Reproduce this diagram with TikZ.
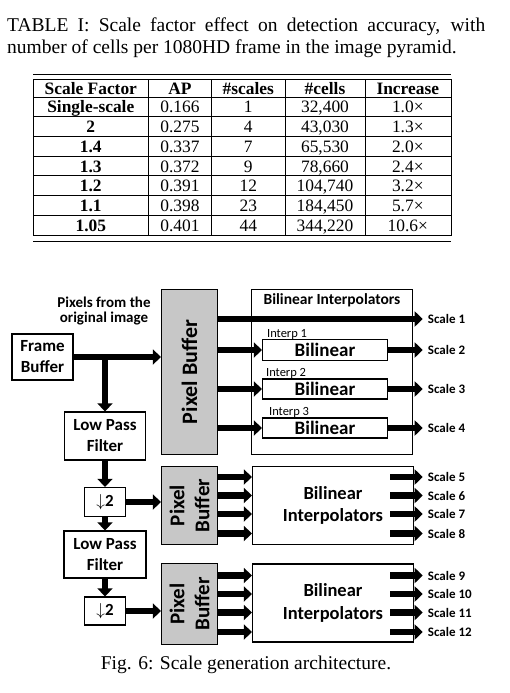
\documentclass[tikz,border=0pt]{standalone}
\usepackage{fontspec}
\setmainfont{Liberation Serif}
\newfontfamily\calibri{Carlito}
\usetikzlibrary{arrows.meta,positioning}
\begin{document}
\begin{tikzpicture}[x=1pt,y=-1pt,
    blk/.style={draw,line width=1.2pt,fill=white,align=center,inner sep=0pt,
      font=\calibri\bfseries\fontsize{17}{21}\selectfont},
    pbuf/.style={draw,line width=1.2pt,fill=black!22,inner sep=0pt,minimum width=56pt},
    pbtxt/.style={rotate=90,align=center,inner sep=0pt,
      font=\calibri\bfseries\fontsize{21}{25}\selectfont},
    flow/.style={line width=6.5pt,-{Triangle[length=8pt,width=15pt]}},
    scl/.style={anchor=west,inner xsep=5pt,inner ysep=0pt,
      font=\calibri\bfseries\fontsize{13}{15}\selectfont},
    interp/.style={anchor=base west,inner sep=0pt,font=\calibri\fontsize{12.5}{14}\selectfont},
    cell/.style={anchor=base,inner sep=0pt,font=\fontsize{17.4}{20}\selectfont},
    rule/.style={line width=0.9pt}]
  \useasboundingbox (0,0) rectangle (510,693);
  %
  % table caption and table
  \node[anchor=north west,inner sep=0pt,text width=478pt,align=justify,
    font=\fontsize{19.5}{21.5}\selectfont] (tcap) at (7,17.6)
    {TABLE I: Scale factor effect on detection accuracy, with\linebreak
     number of cells per 1080HD frame in the image pyramid.};
  \draw[rule] (33,74) -- (451,74);
  \draw[rule] (33,79) rectangle (451,235);
  \draw[rule] (33,241) -- (451,241);
  \foreach \y in {97,116.7,136.4,156.1,175.9,195.6,215.3}
    \draw[rule] (33,\y) -- (451,\y);
  \foreach \x in {148.3,211.7,285,365}
    \draw[rule] (\x,79) -- (\x,235);
  \node[cell] (h1) at (90.8,94) {\bfseries Scale Factor};
  \node[cell] (h2) at (180,94) {\bfseries AP};
  \node[cell] (h3) at (248.3,94) {\bfseries \#scales};
  \node[cell] (h4) at (325,94) {\bfseries \#cells};
  \node[cell] (h5) at (407.8,94) {\bfseries Increase};
  \foreach \vfac/\vap/\vns/\vnc/\vinc [count=\i] in {Single-scale/0.166/1/32{,}400/1.0,
      2/0.275/4/43{,}030/1.3, 1.4/0.337/7/65{,}530/2.0, 1.3/0.372/9/78{,}660/2.4,
      1.2/0.391/12/104{,}740/3.2, 1.1/0.398/23/184{,}450/5.7, 1.05/0.401/44/344{,}220/10.6}{
    \pgfmathsetmacro\yb{97+19.714*(\i-0.5)+6}
    \node[cell] (fac\i) at (90.8,\yb) {\bfseries\vfac};
    \node[cell] (ap\i) at (180,\yb) {\vap};
    \node[cell] (ns\i) at (248.3,\yb) {\vns};
    \node[cell] (nc\i) at (325,\yb) {\vnc};
    \node[cell] (inc\i) at (407.8,\yb) {\vinc×};
  }
  %
  % frame buffer and filter chain
  \node[blk,minimum width=61pt,minimum height=46pt] (frame) at (42.5,357) {Frame\\Buffer};
  \node[align=center,inner sep=0pt,font=\calibri\bfseries\fontsize{15}{15}\selectfont]
    (orig) at (104,311) {Pixels from the\\original image};
  \node[blk,minimum width=81pt,minimum height=48pt] (lpf1) at (105,436) {Low Pass\\Filter};
  \node[blk,minimum width=41pt,minimum height=29pt] (dn1) at (105,502) {$\downarrow$2};
  \node[blk,minimum width=82pt,minimum height=47pt] (lpf2) at (105,554.5) {Low Pass\\Filter};
  \node[blk,minimum width=41pt,minimum height=28pt] (dn2) at (105,611) {$\downarrow$2};
  %
  % pixel buffers
  \node[pbuf,minimum height=165pt] (pb1) at (189.5,372) {};
  \node[pbtxt,font=\calibri\bfseries\fontsize{22}{25}\selectfont] (pb1t) at (pb1) {Pixel Buffer};
  \node[pbuf,minimum height=78pt] (pb2) at (189.5,505.5) {};
  \node[pbtxt] (pb2t) at (pb2) {Pixel\\Buffer};
  \node[pbuf,minimum height=81pt] (pb3) at (189.5,604) {};
  \node[pbtxt] (pb3t) at (pb3) {Pixel\\Buffer};
  %
  % interpolators
  \node[blk,minimum width=161pt,minimum height=165pt] (bi1) at (332,372) {};
  \node[inner sep=0pt,font=\calibri\bfseries\fontsize{15.5}{18}\selectfont] (bi1t) at (332,300)
    {Bilinear Interpolators};
  \node[blk,minimum width=125pt,minimum height=21pt,font=\calibri\bfseries\fontsize{19}{20}\selectfont]
    (bl1) at (325,350) {Bilinear};
  \node[blk,minimum width=125pt,minimum height=20pt,font=\calibri\bfseries\fontsize{19}{20}\selectfont]
    (bl2) at (325,389) {Bilinear};
  \node[blk,minimum width=125pt,minimum height=20pt,font=\calibri\bfseries\fontsize{19}{20}\selectfont]
    (bl3) at (325,428) {Bilinear};
  \node[interp] (ip1) at ([xshift=5pt,yshift=1pt]bl1.north west) {Interp 1};
  \node[interp] (ip2) at ([xshift=4pt,yshift=1.5pt]bl2.north west) {Interp 2};
  \node[interp] (ip3) at ([xshift=7pt,yshift=1.5pt]bl3.north west) {Interp 3};
  \node[blk,minimum width=161pt,minimum height=78pt,font=\calibri\bfseries\fontsize{18.5}{22.5}\selectfont]
    (bi2) at (333,505.5) {Bilinear\\Interpolators};
  \node[blk,minimum width=161pt,minimum height=78pt,font=\calibri\bfseries\fontsize{18.5}{22.5}\selectfont]
    (bi3) at (333,603) {Bilinear\\Interpolators};
  \coordinate (bi2o) at ([xshift=-24pt]bi2.east);
  \coordinate (bi3o) at ([xshift=-24pt]bi3.east);
  %
  % data flow
  \draw[flow] (frame.east) -- (frame.east -| pb1.west);
  \draw[flow] (frame.east -| lpf1.north) -- (lpf1.north);
  \draw[flow] (lpf1) -- (dn1);
  \draw[flow] (dn1) -- (lpf2);
  \draw[flow] (lpf2) -- (dn2);
  \draw[flow] (dn1.east) -- (dn1.east -| pb2.west);
  \draw[flow] (dn2.east) -- (dn2.east -| pb3.west);
  %
  \node[scl] (sc1) at (422.7,319) {Scale 1};
  \draw[flow] (sc1.west -| pb1.east) -- (sc1.west);
  \foreach \i/\j in {1/2,2/3,3/4}{
    \node[scl] (sc\j) at (bl\i.east -| sc1.west) {Scale \j};
    \draw[flow] (bl\i.west -| pb1.east) -- (bl\i.west);
    \draw[flow] (bl\i.east) -- (sc\j.west);
  }
  \foreach \y [count=\i from 5] in {477,495.5,514,533.5}{
    \node[scl] (sc\i) at (422.7,\y) {Scale \i};
    \draw[flow] (pb2.east |- sc\i.west) -- (bi2.west |- sc\i.west);
    \draw[flow] (bi2o |- sc\i.west) -- (sc\i.west);
  }
  \foreach \y [count=\i from 9] in {575.5,594,612.5,632}{
    \node[scl] (sc\i) at (422.7,\y) {Scale \i};
    \draw[flow] (pb3.east |- sc\i.west) -- (bi3.west |- sc\i.west);
    \draw[flow] (bi3o |- sc\i.west) -- (sc\i.west);
  }
  %
  \node[anchor=base,inner sep=0pt,font=\fontsize{19.5}{21.5}\selectfont] (fcap) at (246,669)
    {Fig. 6: Scale generation architecture.};
\end{tikzpicture}
\end{document}
